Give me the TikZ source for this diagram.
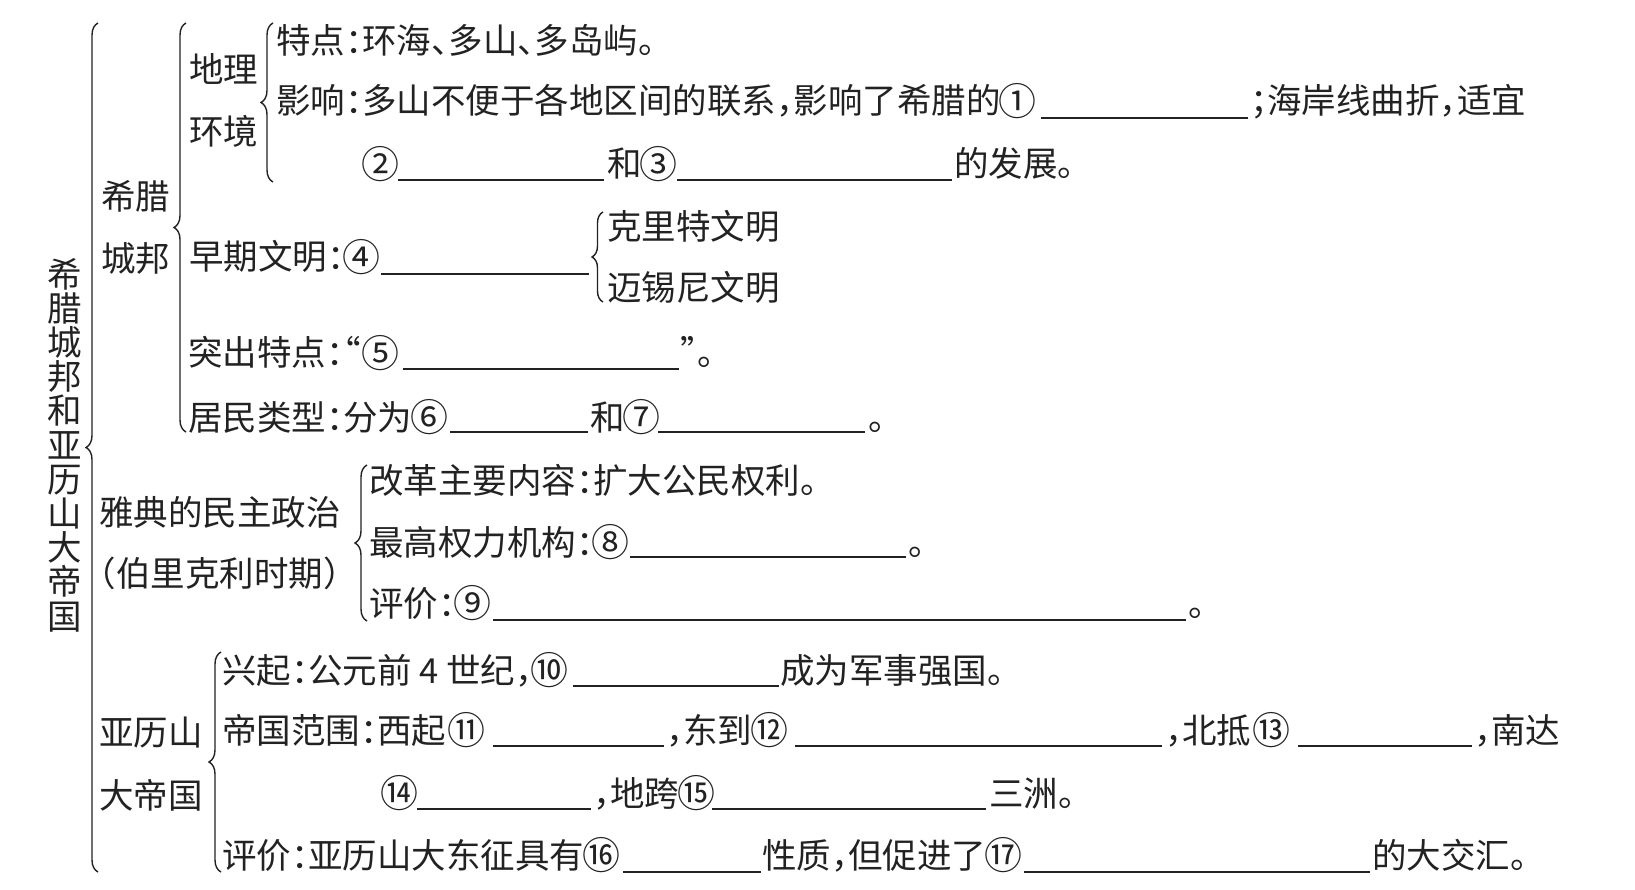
\documentclass[tikz,border=0pt]{standalone}
\usepackage{fontspec}
\usepackage{graphicx}
\newfontfamily\cjk[RawFeature=+halt]{Noto Sans CJK SC}
\usetikzlibrary{decorations.pathreplacing}
\definecolor{ink}{HTML}{222222}
\newcommand\cn[1]{\makebox[1em][c]{\raisebox{-0.045em}{\scalebox{1.1}{#1}}}}
\begin{document}
\begin{tikzpicture}[x=1pt,y=-1pt,
  txt/.style={inner sep=0pt,outer sep=0pt,anchor=base west,text=ink,
    font=\cjk\fontsize{34.5}{40}\selectfont},
  blank/.style={draw=ink,line width=1.3pt},
  brc/.style={draw=ink,line width=1.4pt,decorate,
    decoration={brace,amplitude=#1,aspect=0.5}},
  brc/.default=12pt]
\useasboundingbox[fill=white] (0,0) rectangle (1635,890);

% vertical title
\node[txt,anchor=center,align=center,font=\cjk\fontsize{34.5}{34.2}\selectfont] (title) at (65,445)
  {希\\腊\\城\\邦\\和\\亚\\历\\山\\大\\帝\\国};

% braces
\draw[brc] (98,872) -- (98,23);
\draw[brc] (186,432) -- (186,23);
\draw[brc] (273,182) -- (273,23);
\draw[brc=11pt] (603,302) -- (603,212);
\draw[brc] (367,621) -- (367,465);
\draw[brc] (221,872) -- (221,652);

% labels
\node[txt] (xila) at (101,210) {希腊};
\node[txt] (cb) at (101,272) {城邦};
\node[txt] (dl) at (189,83) {地理};
\node[txt] (hj) at (189,145) {环境};
\node[txt] (yd) at (99,525) {雅典的民主政治};
\node[txt] (blk) at (99,586) {（伯里克利时期）};
\node[txt] (ylsa) at (99,745) {亚历山};
\node[txt] (ddg) at (99,808) {大帝国};

% geography
\node[txt] (a1) at (276,54) {特点：环海、多山、多岛屿。};
\node[txt] (b1) at (276,114) {影响：多山不便于各地区间的联系，影响了希腊的\cn{①}};
\draw[blank] (1041,118) -- (1248,118);
\node[txt] (b2) at (1250,114) {；海岸线曲折，适宜};
\node[txt] (c1) at (363,177) {\cn{②}};
\draw[blank] (398,180) -- (604,180);
\node[txt] (c2) at (607,177) {和\cn{③}};
\draw[blank] (677,180) -- (952,180);
\node[txt] (c3) at (954,177) {的发展。};

% early civilisation
\node[txt] (d1) at (189,270) {早期文明：\cn{④}};
\draw[blank] (381,274) -- (589,274);
\node[txt] (d2) at (607,240) {克里特文明};
\node[txt] (d3) at (607,301) {迈锡尼文明};

\node[txt] (e1) at (188,366) {突出特点：“\hspace{3pt}\cn{⑤}};
\draw[blank] (403,369) -- (679,369);
\node[txt] (e2) at (680,366) {”。};

\node[txt] (f1) at (188,430) {居民类型：分为\cn{⑥}};
\draw[blank] (450,432) -- (588,432);
\node[txt] (f2) at (590,430) {和\cn{⑦}};
\draw[blank] (658,432) -- (865,432);
\node[txt] (f3) at (868,430) {。};

% Athens
\node[txt] (g1) at (369,493) {改革主要内容：扩大公民权利。};
\node[txt] (h1) at (369,555) {最高权力机构：\cn{⑧}};
\draw[blank] (630,557) -- (906,557);
\node[txt] (h2) at (908,555) {。};
\node[txt] (i1) at (369,616) {评价：\cn{⑨}};
\draw[blank] (493,620) -- (1186,620);
\node[txt] (i2) at (1188,616) {。};

% Alexander
\node[txt] (j1) at (222,683) {兴起：公元前 4 世纪，\cn{⑩}};
\draw[blank] (573,686) -- (779,686);
\node[txt] (j2) at (780,683) {成为军事强国。};

\node[txt] (k1) at (222,743) {帝国范围：西起\hspace{3pt}\cn{⑪}};
\draw[blank] (493,746) -- (664,746);
\node[txt] (k2) at (666,743) {，东到\cn{⑫}};
\draw[blank] (795,746) -- (1162,746);
\node[txt] (k3) at (1165,743) {，北抵\hspace{3pt}\cn{⑬}};
\draw[blank] (1298,746) -- (1472,746);
\node[txt] (k4) at (1474,743) {，南达};

\node[txt] (l1) at (382,806) {\cn{⑭}};
\draw[blank] (417,809) -- (591,809);
\node[txt] (l2) at (593,806) {，地跨\cn{⑮}};
\draw[blank] (712,809) -- (986,809);
\node[txt] (l3) at (989,806) {三洲。};

\node[txt] (m1) at (222,868) {评价：亚历山大东征具有\cn{⑯}};
\draw[blank] (623,872) -- (761,872);
\node[txt] (m2) at (762,868) {性质，但促进了\cn{⑰}};
\draw[blank] (1024,872) -- (1370,872);
\node[txt] (m3) at (1372,868) {的大交汇。};
\end{tikzpicture}
\end{document}
